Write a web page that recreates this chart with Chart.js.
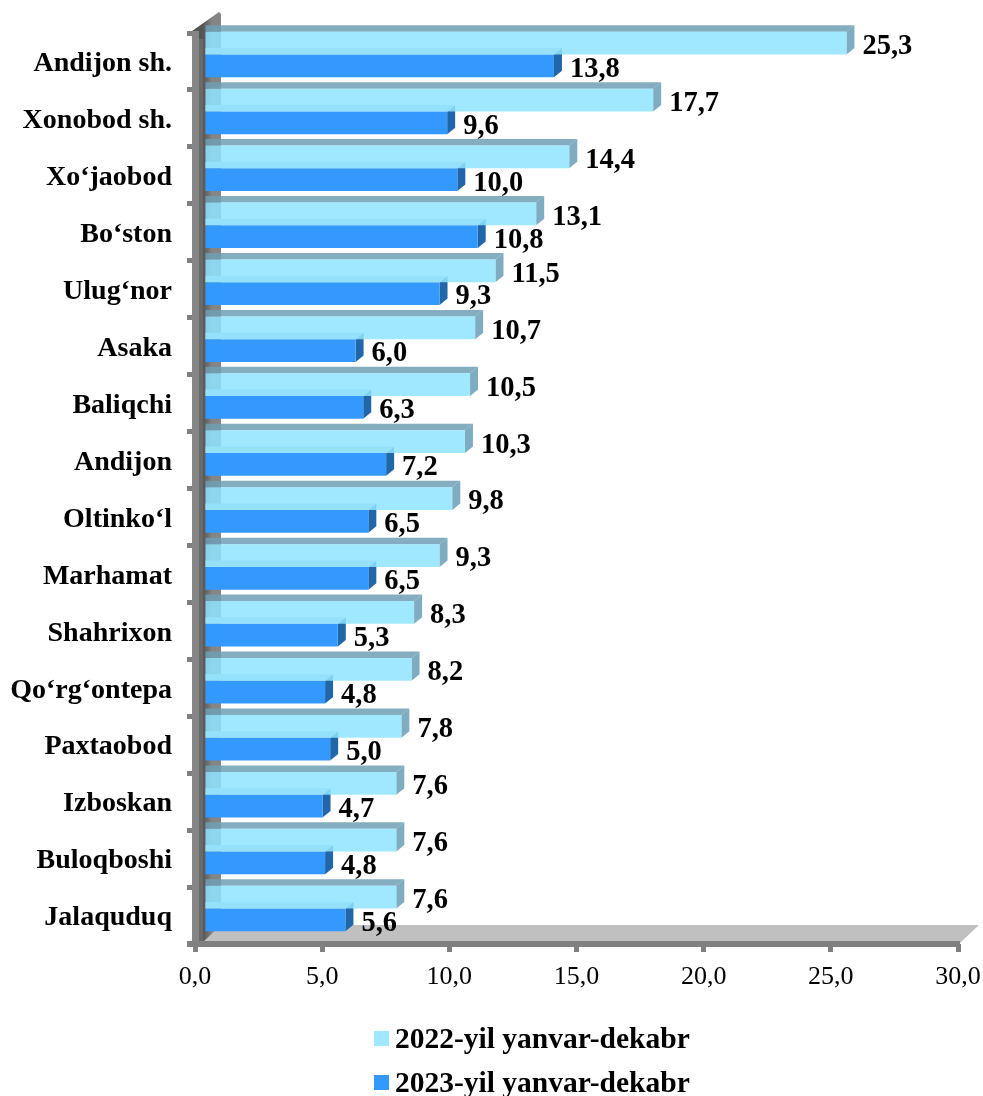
<!DOCTYPE html>
<html>
<head>
<meta charset="utf-8">
<style>
    html, body { margin: 0; padding: 0; background: #fff; overflow: hidden; }
    #wrap { width: 983px; height: 1096px; }
</style>
<script src="https://cdn.jsdelivr.net/npm/chart.js@4"></script>
</head>
<body>
<div id="wrap"><canvas id="myChart"></canvas></div>
<script>
// Values
const districts = ['Andijon sh.', 'Xonobod sh.', 'Xo‘jaobod', 'Bo‘ston', 'Ulug‘nor', 'Asaka', 'Baliqchi', 'Andijon',
    'Oltinko‘l', 'Marhamat', 'Shahrixon', 'Qo‘rg‘ontepa', 'Paxtaobod', 'Izboskan', 'Buloqboshi', 'Jalaquduq'];
const values2022 = [25.3, 17.7, 14.4, 13.1, 11.5, 10.7, 10.5, 10.3, 9.8, 9.3, 8.3, 8.2, 7.8, 7.6, 7.6, 7.6];
const values2023 = [13.8, 9.6, 10.0, 10.8, 9.3, 6.0, 6.3, 7.2, 6.5, 6.5, 5.3, 4.8, 5.0, 4.7, 4.8, 5.6];
const seriesNames = ['2022-yil yanvar-dekabr', '2023-yil yanvar-dekabr'];

const SERIF = '"Liberation Serif", "Times New Roman", serif';
const GREY = '#808080';
// bars sit on the back of the fake 3D box
const SHIFT_X = 8, SHIFT_Y = -7;
const DEPTH_X = 8, DEPTH_Y = 6.5;

const comma = v => v.toFixed(1).replace('.', ',');

function poly(ctx, pts, color) {
    ctx.fillStyle = color;
    ctx.beginPath();
    pts.forEach((p, i) => i ? ctx.lineTo(p[0], p[1]) : ctx.moveTo(p[0], p[1]));
    ctx.closePath();
    ctx.fill();
}

const box3d = {
    id: 'box3d',
    afterLayout(chart) {
        // category labels sit a little under the band middle
        const y = chart.scales.y, drawLabels = y.drawLabels;
        y.drawLabels = function (area) {
            chart.ctx.save();
            chart.ctx.translate(0, 2.5);
            drawLabels.call(this, area);
            chart.ctx.restore();
        };
    },
    // side wall, floor and the thick axis lines
    beforeDatasetsDraw(chart) {
        const { ctx, chartArea: a } = chart;
        ctx.save();
        poly(ctx, [[a.right + 2, a.bottom - 1], [a.right + 21, 925], [222, 925], [200, a.bottom - 1]], '#c0c0c0');
        const g = ctx.createLinearGradient(203, 0, 212, 0);
        g.addColorStop(0, '#555555');
        g.addColorStop(1, '#858585');
        poly(ctx, [[192, a.top - 2], [219, 12], [221, 14], [221, 925], [203, a.bottom - 2], [192, a.bottom]], g);
        ctx.fillStyle = '#858585';
        ctx.fillRect(192, a.top - 2, 7, a.bottom - a.top + 2);
        ctx.fillStyle = '#6a6a6a';
        ctx.fillRect(199, a.top + 6, 4, a.bottom - a.top - 6);
        ctx.fillStyle = GREY;
        ctx.fillRect(187, a.bottom - 3, a.right - 187 + 2, 6);
        ctx.restore();
    },
    beforeDatasetDraw(chart, args) {
        const { ctx } = chart;
        ctx.save();
        ctx.translate(SHIFT_X, SHIFT_Y);
        const dark = args.index === 1;
        // painted under the bar, so the light bar shows the dark top through it
        chart.getDatasetMeta(args.index).data.forEach(bar => {
            const top = bar.y - bar.height / 2, bottom = bar.y + bar.height / 2;
            poly(ctx, [[bar.x, top], [bar.x + DEPTH_X, top - DEPTH_Y], [bar.x + DEPTH_X, bottom - DEPTH_Y], [bar.x, bottom]],
                dark ? '#2266aa' : '#7facc0');
            poly(ctx, [[bar.base, top], [bar.base, top - DEPTH_Y], [bar.x + DEPTH_X, top - DEPTH_Y], [bar.x, top]],
                dark ? '#b4cde6' : 'rgba(110,160,180,0.85)');
        });
    },
    afterDatasetDraw(chart) {
        chart.ctx.restore();
    },
    afterDatasetsDraw(chart) {
        const { ctx } = chart;
        ctx.save();
        ctx.fillStyle = '#000';
        ctx.font = 'bold 28.5px ' + SERIF;
        ctx.textAlign = 'left';
        ctx.textBaseline = 'middle';
        chart.data.datasets.forEach((ds, i) => {
            chart.getDatasetMeta(i).data.forEach((bar, j) => {
                ctx.fillText(comma(ds.data[j]), bar.x + 24, bar.y + SHIFT_Y + 3.5);
            });
        });
        // legend, one entry per row
        ctx.font = 'bold 29.5px ' + SERIF;
        seriesNames.forEach((name, i) => {
            const y = 1040 + i * 44;
            ctx.fillStyle = i ? '#3399ff' : '#a0e8ff';
            ctx.fillRect(374, y - 9, 15, 15);
            ctx.fillStyle = '#000';
            ctx.fillText(name, 395, y);
        });
        ctx.restore();
    }
};

const ctx = document.getElementById('myChart').getContext('2d');
new Chart(ctx, {
    type: 'bar',
    plugins: [box3d],
    data: {
        labels: districts,
        datasets: [
            { label: seriesNames[0], data: values2022, backgroundColor: 'rgba(143,228,255,0.85)' },
            { label: seriesNames[1], data: values2023, backgroundColor: '#3399ff' }
        ]
    },
    options: {
        indexAxis: 'y',
        responsive: true,
        maintainAspectRatio: false,
        animation: false,
        events: [],
        layout: { padding: { top: 33, right: 25 } },
        categoryPercentage: 0.8,
        barPercentage: 1,
        plugins: { legend: { display: false }, tooltip: { enabled: false } },
        scales: {
            x: {
                min: 0,
                max: 30,
                afterFit: scale => {
                    scale.height = 1096 - 944;
                    scale.paddingLeft = 0;
                    scale.paddingRight = 0;
                },
                border: { display: false },
                grid: { drawOnChartArea: false, color: GREY, lineWidth: 5, tickLength: 8 },
                ticks: {
                    stepSize: 5,
                    maxRotation: 0,
                    padding: 10,
                    color: '#000',
                    font: { family: SERIF, size: 26 },
                    callback: v => comma(v)
                }
            },
            y: {
                afterFit: scale => { scale.width = 195; },
                border: { display: false },
                grid: { drawOnChartArea: false, color: GREY, lineWidth: 5, tickLength: 8 },
                ticks: {
                    padding: 15,
                    autoSkip: false,
                    color: '#000',
                    font: { family: SERIF, size: 28, weight: 'bold' }
                }
            }
        }
    }
});
</script>
</body>
</html>
